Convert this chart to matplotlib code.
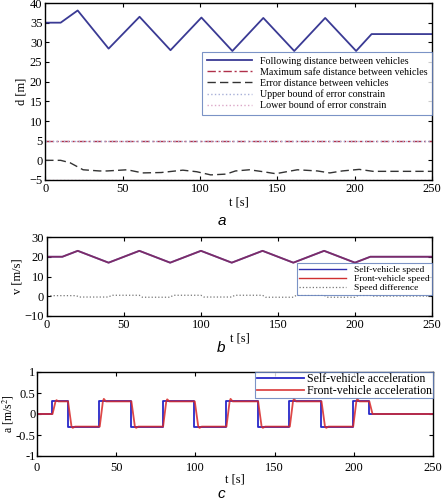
import matplotlib.pyplot as plt
import numpy as np

plt.rcParams['font.family'] = ['Liberation Serif', 'DejaVu Serif']
plt.rcParams['mathtext.fontset'] = 'stix'

# --- panel a: distances ---
follow_t = [0, 10, 21, 41, 61, 81, 101, 121, 141, 161, 181, 201, 211, 250]
follow_d = [35, 35, 38.1, 28.4, 36.5, 28.0, 36.3, 27.8, 36.2, 27.8, 36.2, 27.8, 32.1, 32.1]

error_t = [0, 10, 16, 24.5, 35, 40, 53, 63, 75, 89, 98, 107, 117, 123, 132, 141,
           149, 163, 176, 184, 192, 203, 212, 250]
error_d = [0, 0, -0.6, -2.4, -2.7, -2.7, -2.4, -3.2, -3.1, -2.5, -2.9, -3.7, -3.5,
           -2.7, -2.4, -2.9, -3.4, -2.4, -2.7, -3.2, -2.7, -2.3, -2.8, -2.8]

max_safe = 5
upper_bound = 5
lower_bound = -5

# --- panel b: speeds ---
speed_t = [0, 10, 20, 40, 60, 80, 100, 120, 140, 160, 180, 200, 210, 250]
self_v = [20, 20, 23, 17, 23, 17, 23, 17, 23, 17, 23, 17, 20, 20]
front_v = [20, 20, 23, 17, 23, 17, 23, 17, 23, 17, 23, 17, 20, 20]

diff_t = [0, 19, 21, 40, 42, 60, 62, 80, 82, 100, 102, 120, 122, 140, 142, 160,
          162, 180, 182, 200, 202, 210, 212, 250]
diff_v = [0.3, 0.3, -0.4, -0.4, 0.5, 0.5, -0.5, -0.5, 0.5, 0.5, -0.4, -0.4, 0.5, 0.5,
          -0.5, -0.5, 0.5, 0.5, -0.5, -0.5, 0.4, 0.4, 0.1, 0.1]

# --- panel c: accelerations ---
self_at = [0, 9.5, 9.5, 19.3, 19.3, 39.3, 39.3, 59.3, 59.3, 79.3, 79.3, 99.3, 99.3,
           119.3, 119.3, 139.3, 139.3, 159.3, 159.3, 179.3, 179.3, 199.3, 199.3,
           209.5, 209.5, 250]
self_a = [0, 0, 0.3, 0.3, -0.3, -0.3, 0.3, 0.3, -0.3, -0.3, 0.3, 0.3, -0.3, -0.3,
          0.3, 0.3, -0.3, -0.3, 0.3, 0.3, -0.3, -0.3, 0.3, 0.3, 0, 0]

front_at = [0, 9.8, 11.7, 12.3, 13.5,
            19.6, 21.8, 22.6, 24,
            39.6, 41.6, 42.2, 43.5,
            59.6, 61.8, 62.6, 64,
            79.6, 81.6, 82.2, 83.5,
            99.6, 101.8, 102.6, 104,
            119.6, 121.6, 122.2, 123.5,
            139.6, 141.8, 142.6, 144,
            159.6, 161.6, 162.2, 163.5,
            179.6, 181.8, 182.6, 184,
            199.6, 201.6, 202.2, 203.5,
            209.8, 211.8, 250]
front_a = [0, 0, 0.3, 0.33, 0.3,
           0.3, -0.3, -0.33, -0.3,
           -0.3, 0.3, 0.36, 0.3,
           0.3, -0.3, -0.33, -0.3,
           -0.3, 0.3, 0.35, 0.3,
           0.3, -0.3, -0.33, -0.3,
           -0.3, 0.3, 0.36, 0.3,
           0.3, -0.3, -0.33, -0.3,
           -0.3, 0.3, 0.36, 0.3,
           0.3, -0.3, -0.33, -0.3,
           -0.3, 0.3, 0.36, 0.3,
           0.3, 0, 0]

fig = plt.figure(figsize=(4.43, 5.0), dpi=100)


def style_axes(ax):
    ax.tick_params(direction='in', top=True, right=True, labelsize=9, length=3, pad=2)
    for s in ax.spines.values():
        s.set_linewidth(1.0)


# Panel a
ax1 = fig.add_axes([0.102, 0.64, 0.873, 0.354])
ax1.plot(follow_t, follow_d, color='#3a3a94', lw=1.3, label='Following distance between vehicles')
ax1.axhline(max_safe, color='#b0304a', lw=1.0, ls=(0, (6, 2, 1.5, 2)),
            label='Maximum safe distance between vehicles')
ax1.plot(error_t, error_d, color='#333333', lw=1.0, ls=(0, (6, 3)),
         label='Error distance between vehicles')
ax1.axhline(upper_bound, color='#a8b0d8', lw=1.0, ls=':', label='Upper bound of error constrain')
ax1.axhline(lower_bound, color='#dca8c8', lw=1.0, ls=':', label='Lower bound of error constrain')
ax1.set_xlim(0, 250)
ax1.set_ylim(-5, 40)
ax1.set_xticks(np.arange(0, 251, 50))
ax1.set_yticks(np.arange(-5, 41, 5))
ax1.set_xlabel('t [s]', fontsize=9, labelpad=1)
ax1.set_ylabel('d [m]', fontsize=9, labelpad=1)
style_axes(ax1)
leg1 = ax1.legend(loc='upper right', bbox_to_anchor=(1.0, 0.722), fontsize=7.2,
                  frameon=True, fancybox=False, handlelength=4.5, borderpad=0.45,
                  labelspacing=0.2, handletextpad=0.8, borderaxespad=0)
leg1.get_frame().set_edgecolor('#5a78b8')
leg1.get_frame().set_linewidth(0.8)
fig.text(0.5, 1 - 221 / 500, 'a', fontsize=11, style='italic', family='Liberation Sans',
         ha='center', va='center')

# Panel b
ax2 = fig.add_axes([0.106, 0.368, 0.869, 0.158])
ax2.plot(speed_t, self_v, color='#3030b0', lw=1.3, label='Self-vehicle speed')
ax2.plot(speed_t, front_v, color='#b02838', lw=1.3, alpha=0.6, label='Front-vehicle speed')
ax2.plot(diff_t, diff_v, color='#777777', lw=0.9, ls=':', label='Speed difference')
ax2.set_xlim(0, 250)
ax2.set_ylim(-10, 30)
ax2.set_xticks(np.arange(0, 251, 50))
ax2.set_yticks(np.arange(-10, 31, 10))
ax2.set_xlabel('t [s]', fontsize=9, labelpad=1)
ax2.set_ylabel('v [m/s]', fontsize=9, labelpad=1)
style_axes(ax2)
h2, l2 = ax2.get_legend_handles_labels()
h2[1] = plt.Line2D([], [], color='#d03030', lw=1.0)
h2[0] = plt.Line2D([], [], color='#3030b0', lw=1.0)
leg2 = ax2.legend(h2, l2, loc='upper right', bbox_to_anchor=(1.0, 0.67), fontsize=6.8,
                  frameon=True, fancybox=False, handlelength=5.0, borderpad=0.25,
                  labelspacing=0.05, handletextpad=0.8, borderaxespad=0)
leg2.get_frame().set_edgecolor('#5a78b8')
leg2.get_frame().set_linewidth(0.8)
fig.text(0.5, 1 - 348 / 500, 'b', fontsize=11, style='italic', family='Liberation Sans',
         ha='center', va='center')

# Panel c
ax3 = fig.add_axes([0.0835, 0.088, 0.894, 0.168])
ax3.plot(self_at, self_a, color='#2828c8', lw=1.3, label='Self-vehicle acceleration')
ax3.plot(front_at, front_a, color='#d82828', lw=1.3, alpha=0.85, label='Front-vehicle acceleration')
ax3.set_xlim(0, 250)
ax3.set_ylim(-1, 1)
ax3.set_xticks(np.arange(0, 251, 50))
ax3.set_yticks([-1, -0.5, 0, 0.5, 1])
ax3.set_yticklabels(['-1', '-0.5', '0', '0.5', '1'])
ax3.set_xlabel('t [s]', fontsize=9, labelpad=0)
ax3.set_ylabel('a [m/s$^2$]', fontsize=8.5, labelpad=0)
style_axes(ax3)
ax3.tick_params(axis='y', pad=1)
ax3.tick_params(axis='x', pad=4)
leg3 = ax3.legend(loc='upper right', fontsize=8.6, frameon=True, fancybox=False,
                  handlelength=4.0, borderpad=0.1, labelspacing=0.0,
                  handletextpad=0.2, borderaxespad=0)
leg3.get_frame().set_edgecolor('#5a78b8')
leg3.get_frame().set_linewidth(0.8)
fig.text(0.5, 1 - 494 / 500, 'c', fontsize=11, style='italic', family='Liberation Sans',
         ha='center', va='center')

fig.savefig('out.png', dpi=100)
